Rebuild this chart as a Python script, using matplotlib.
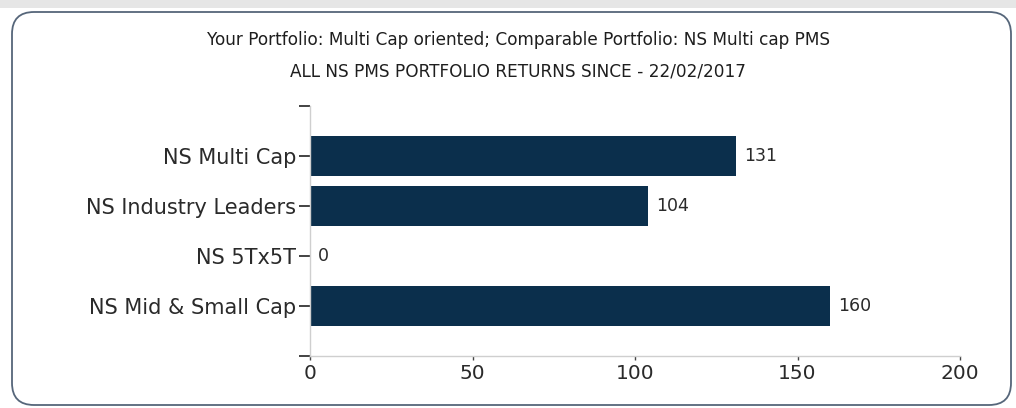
import matplotlib.pyplot as plt
from matplotlib.patches import FancyBboxPatch, Rectangle

plt.rcParams["font.family"] = ["DejaVu Sans"]

# ---- data ----
portfolios = ["NS Multi Cap", "NS Industry Leaders", "NS 5Tx5T", "NS Mid & Small Cap"]
returns = [131, 104, 0, 160]
x_ticks = [0, 50, 100, 150, 200]
title_top = "Your Portfolio: Multi Cap oriented; Comparable Portfolio: NS Multi cap PMS"
title_sub = "ALL NS PMS PORTFOLIO RETURNS SINCE - 22/02/2017"

BAR = "#0b2f4c"
TXT = "#2a2a2a"
W, H = 1016, 408

fig = plt.figure(figsize=(W / 100, H / 100), dpi=100)

# soft shadow at top and the rounded frame round the chart (inch units)
fig.patches.append(Rectangle((0, (H - 8) / 100), W / 100, 0.08, transform=fig.dpi_scale_trans,
                             facecolor="#e6e6e6", edgecolor="none", zorder=0))
fig.patches.append(FancyBboxPatch((0.12, 0.03), 9.99, 3.93,
                                  boxstyle="round,pad=0,rounding_size=0.22",
                                  transform=fig.dpi_scale_trans, facecolor="white",
                                  edgecolor="#56667a", linewidth=1.3, zorder=1))

fig.text(0.51, 1 - 40 / H, title_top, ha="center", va="center", fontsize=12.2, color="#1e1e1e")
fig.text(0.51, 1 - 72 / H, title_sub, ha="center", va="center", fontsize=12.2, color="#1e1e1e")

ax = fig.add_axes([310 / W, 52 / H, 650 / W, 250 / H])
ax.set_zorder(5)
ax.set_facecolor("none")
pos = list(range(len(portfolios)))
ax.barh(pos, returns, height=0.8, color=BAR)
for p, v in zip(pos, returns):
    ax.text(v + 2.5, p, f"{v}", va="center", ha="left", fontsize=12.5, color=TXT)

ax.set_xlim(0, 200)
ax.set_ylim(4, -1)
ax.set_xticks(x_ticks)
ax.set_xticklabels([str(t) for t in x_ticks], fontsize=14.5, color=TXT)
ax.set_yticks([-1] + pos + [4])
ax.set_yticklabels([""] + portfolios + [""], fontsize=15, color=TXT)

for s in ["top", "right"]:
    ax.spines[s].set_visible(False)
for s in ["left", "bottom"]:
    ax.spines[s].set_color("#cfcfcf")
    ax.spines[s].set_linewidth(1.0)
ax.tick_params(axis="y", length=8, width=1.2, color="#222222", pad=2)
ax.tick_params(axis="x", length=3, width=1.0, color="#444444", pad=3)

fig.savefig("out.png", dpi=100)
